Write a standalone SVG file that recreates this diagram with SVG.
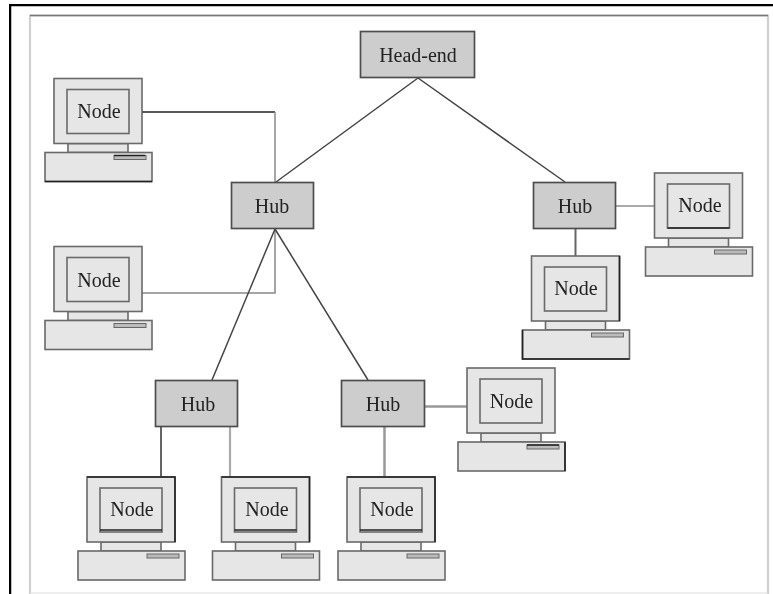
<svg xmlns="http://www.w3.org/2000/svg" width="773" height="594" viewBox="0 0 773 594">
<style>
text{font-family:"Liberation Serif","Times New Roman",serif;font-size:20px;fill:#222;text-anchor:middle}
.hub{fill:#cdcdcd;stroke:#4d4d4d;stroke-width:1.700}
.pc{fill:#e6e6e6;stroke:#6a6a6a;stroke-width:1.600}
.slot{fill:#bbb;stroke:#666;stroke-width:1}
.edge{fill:none;stroke:#222;stroke-width:1.600}
.link{fill:none;stroke:#444;stroke-width:1.500}
.faint{stroke:#888}
.light{stroke:#aaa;stroke-width:2.200}
.dark{stroke:#222;stroke-width:1.500}
.mid{stroke:#666;stroke-width:2}
.soft{stroke:#999;stroke-width:2.500}
</style>
<defs>
<filter id="soft" x="0" y="0" width="1" height="1"><feGaussianBlur stdDeviation="0.7"/></filter>
<g id="computer">
<rect class="pc" x="23" y="65" width="60" height="9"/>
<rect class="pc" x="9" y="0" width="88" height="65"/>
<rect class="pc" x="22" y="11" width="62" height="44"/>
<rect class="pc" x="0" y="74" width="107" height="29"/>
<rect class="slot" x="69" y="77" width="32" height="4"/>
</g>
</defs>
<rect width="773" height="594" fill="#fff"/>
<g filter="url(#soft)">
<g id="frame">
<path d="M9.500 594V4.500H773" fill="none" stroke="#000" stroke-width="3.500"/>
<path d="M30 594V15.500H768V594" fill="none" stroke="#cfcfcf" stroke-width="2.200"/>
<path d="M30 15.500H768" fill="none" stroke="#777" stroke-width="1.500"/>
<path d="M30 593H768" fill="none" stroke="#ddd" stroke-width="1"/>
</g>
<g id="connectors">
<path class="link dark" d="M142 112H275"/>
<path class="link faint" d="M275 112V182"/>
<path class="link" d="M418 78L276 182"/>
<path class="link" d="M418 78L565 182"/>
<path class="link faint" d="M142 293H275V229"/>
<path class="link" d="M275 229L212 380"/>
<path class="link" d="M275 229L368 380"/>
<path class="link light" d="M616 206H655"/>
<path class="link mid" d="M575.500 229V256"/>
<path class="link mid" d="M161 427V477"/>
<path class="link light" d="M230 427V477"/>
<path class="link soft" d="M425 406.500H467"/>
<path class="link soft" d="M384.500 427V477"/>
</g>
<g id="head-end"><rect class="hub" x="360.500" y="31.500" width="114" height="46"/><text x="418" y="62">Head-end</text></g>
<g id="hub-1"><rect class="hub" x="231.500" y="182.500" width="82" height="46"/><text x="272" y="213">Hub</text></g>
<g id="hub-2"><rect class="hub" x="533.500" y="182.500" width="82" height="46"/><text x="575" y="213">Hub</text></g>
<g id="hub-3"><rect class="hub" x="155.500" y="380.500" width="82" height="46"/><text x="198" y="411">Hub</text></g>
<g id="hub-4"><rect class="hub" x="341.500" y="380.500" width="83" height="46"/><text x="383" y="411">Hub</text></g>
<g id="node-1"><use href="#computer" x="45" y="78.500"/><path class="edge" d="M45 181.500H152M114 155.500H145"/><text x="99" y="118">Node</text></g>
<g id="node-2"><use href="#computer" x="45" y="246.500"/><text x="99" y="287">Node</text></g>
<g id="node-3"><use href="#computer" x="645.500" y="173"/><path class="edge" d="M667.500 228H729.500"/><text x="700" y="212">Node</text></g>
<g id="node-4"><use href="#computer" x="522.500" y="256"/><path class="edge" d="M619.500 256V321M522.500 330V359H629.500"/><text x="576" y="295">Node</text></g>
<g id="node-5"><use href="#computer" x="458" y="368"/><path class="edge" d="M565 442V471M527 445H559"/><text x="511.500" y="408">Node</text></g>
<g id="node-6"><use href="#computer" x="78" y="477"/><path class="edge" d="M87 477H175V542M100 530H162"/><text x="132" y="516">Node</text></g>
<g id="node-7"><use href="#computer" x="212.500" y="477"/><path class="edge" d="M221.500 477H309.500V542M234.500 530H296.500"/><text x="267" y="516">Node</text></g>
<g id="node-8"><use href="#computer" x="338" y="477"/><path class="edge" d="M347 477H435V542M360 530H422"/><text x="392" y="516">Node</text></g>
</g>
</svg>
